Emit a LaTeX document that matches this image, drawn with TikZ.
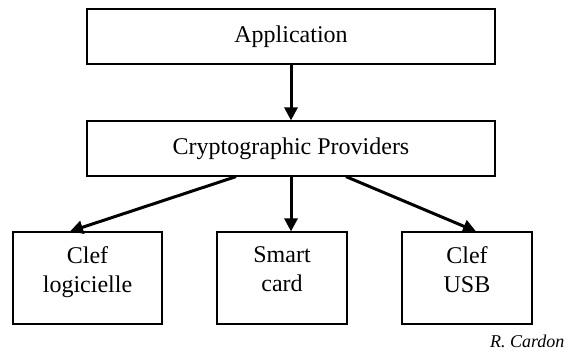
\documentclass[tikz,border=0pt]{standalone}
\usepackage{fontspec}
\setmainfont{Liberation Serif}
\usetikzlibrary{arrows.meta}
\tikzset{
  box/.style={draw, line width=1.2pt, align=center, inner sep=0pt,
    font=\fontsize{24}{29}\selectfont},
  lowbox/.style={box, minimum width=130pt, minimum height=92pt, text depth=17pt},
  link/.style={->, line width=3pt}
}
\begin{document}
\begin{tikzpicture}[x=1pt, y=-1pt, >={Triangle[length=13pt,width=13pt]}]
                \useasboundingbox (0, 0) rectangle (572, 354);

                \node (app) at (291, 36.5) [box, minimum width=408pt, minimum height=55pt] {Application};
                \node (cp) at (291, 148.5) [box, minimum width=408pt, minimum height=55pt] {Cryptographic Providers};

                \node (cl) at (87.5, 278) [lowbox, minimum width=149pt] {Clef\\logicielle};
                \node (sc) at (282, 278) [lowbox] {Smart\\card};
                \node (usb) at (467, 278) [lowbox] {Clef\\USB};

                \draw[link] (app) -- (cp);
                \draw[link] ([xshift=-55pt]cp.south) -- ([xshift=-17.5pt]cl.north);
                \draw[link] (cp.south) -- (cp.south |- sc.north);
                \draw[link] ([xshift=55pt]cp.south) -- ([xshift=9pt]usb.north);

                \node (auth) at (568, 347) [anchor=base east, font=\fontsize{18}{22}\selectfont\itshape] {R. Cardon};
            \end{tikzpicture}
\end{document}
